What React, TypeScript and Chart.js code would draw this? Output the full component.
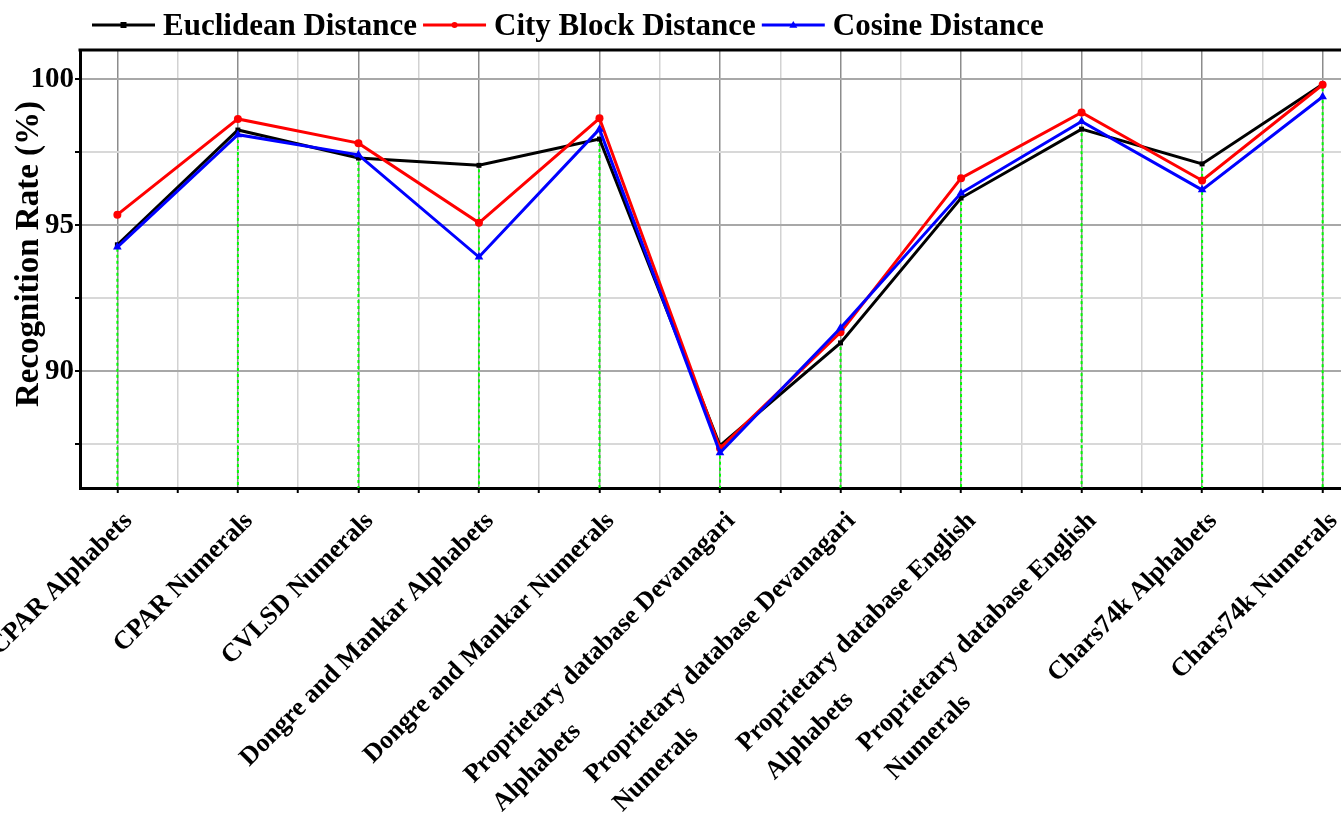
import React, { useEffect, useRef } from "react";
import { Chart, registerables } from "chart.js";

Chart.register(...registerables);

const FONT = '"Liberation Serif", "Times New Roman", serif';

const categories: string[][] = [
  ["CPAR Alphabets"],
  ["CPAR Numerals"],
  ["CVLSD Numerals"],
  ["Dongre and Mankar Alphabets"],
  ["Dongre and Mankar Numerals"],
  ["Proprietary database Devanagari", "Alphabets"],
  ["Proprietary database Devanagari", "Numerals"],
  ["Proprietary database English", "Alphabets"],
  ["Proprietary database English", "Numerals"],
  ["Chars74k Alphabets"],
  ["Chars74k Numerals"],
];

const seriesNames = ["Euclidean Distance", "City Block Distance", "Cosine Distance"];
const euclidean = [94.33, 98.26, 97.3, 97.05, 97.95, 87.45, 90.97, 95.93, 98.29, 97.1, 99.83];
const cityBlock = [95.36, 98.64, 97.81, 95.08, 98.66, 87.36, 91.33, 96.61, 98.86, 96.53, 99.81];
const cosine = [94.25, 98.1, 97.41, 93.91, 98.29, 87.21, 91.48, 96.1, 98.55, 96.21, 99.4];

const yTicks = [87.5, 90, 92.5, 95, 97.5, 100];
const yLabelTicks = [90, 95, 100];
const yMin = 86;
const yMax = 101;
const xPad = 0.31;
const yTitle = "Recognition Rate (%)";

const colors = ["#000000", "#ff0000", "#0000ff"];
const pointStyles = ["rect", "circle", "triangle"];
const pointRadii = [3.5, 4, 5];

function toXY(values: number[]) {
  return values.map((v, i) => ({ x: i, y: v }));
}

function drawMarker(ctx: CanvasRenderingContext2D, style: string, x: number, y: number, r: number, color: string) {
  ctx.save();
  ctx.fillStyle = color;
  ctx.beginPath();
  if (style === "rect") {
    ctx.rect(x - r, y - r, 2 * r, 2 * r);
  } else if (style === "circle") {
    ctx.arc(x, y, r, 0, Math.PI * 2);
  } else {
    ctx.moveTo(x, y - r);
    ctx.lineTo(x + r, y + r * 0.7);
    ctx.lineTo(x - r, y + r * 0.7);
    ctx.closePath();
  }
  ctx.fill();
  ctx.restore();
}

const decorPlugin = {
  id: "decor",
  beforeDatasetsDraw(chart: any) {
    const { ctx, chartArea } = chart;
    const meta = chart.getDatasetMeta(0);
    ctx.save();
    ctx.strokeStyle = "#00ff00";
    ctx.lineWidth = 2;
    ctx.setLineDash([3, 3]);
    meta.data.forEach((pt: any) => {
      ctx.beginPath();
      ctx.moveTo(pt.x, pt.y + 4);
      ctx.lineTo(pt.x, chartArea.bottom);
      ctx.stroke();
    });
    ctx.restore();
  },
  afterDraw(chart: any) {
    const { ctx, chartArea } = chart;
    ctx.save();
    // top / right border
    ctx.strokeStyle = "#000";
    ctx.lineWidth = 3;
    ctx.beginPath();
    ctx.moveTo(chartArea.left - 1.5, chartArea.top);
    ctx.lineTo(chartArea.right, chartArea.top);
    ctx.lineTo(chartArea.right, chartArea.bottom);
    ctx.stroke();

    // y axis title
    ctx.fillStyle = "#000";
    ctx.font = `bold 33px ${FONT}`;
    ctx.textAlign = "center";
    ctx.textBaseline = "middle";
    ctx.save();
    ctx.translate(29, 254);
    ctx.rotate(-Math.PI / 2);
    ctx.fillText(yTitle, 0, 0);
    ctx.restore();

    // x tick labels, rotated 45 degrees, multi-line left aligned
    const xs = chart.scales.x;
    ctx.font = `bold 26px ${FONT}`;
    ctx.textBaseline = "middle";
    categories.forEach((lines, i) => {
      const px = xs.getPixelForValue(i);
      ctx.save();
      ctx.translate(px + 11, chartArea.bottom + 29);
      ctx.rotate(-Math.PI / 4);
      ctx.textAlign = "right";
      ctx.fillText(lines[0], 0, 0);
      const w0 = ctx.measureText(lines[0]).width;
      ctx.textAlign = "left";
      for (let k = 1; k < lines.length; k++) {
        ctx.fillText(lines[k], -w0, 40 * k);
      }
      ctx.restore();
    });

    // legend
    ctx.font = `bold 31px ${FONT}`;
    ctx.textAlign = "left";
    ctx.textBaseline = "alphabetic";
    let x = 92;
    const ly = 25;
    chart.data.datasets.forEach((ds: any, i: number) => {
      ctx.strokeStyle = colors[i];
      ctx.lineWidth = 3;
      ctx.beginPath();
      ctx.moveTo(x, ly);
      ctx.lineTo(x + 63, ly);
      ctx.stroke();
      drawMarker(ctx, pointStyles[i], x + 31.5, ly, i === 2 ? 4 : 3, colors[i]);
      x += 63 + 8;
      ctx.fillStyle = "#000";
      ctx.fillText(ds.label, x, 35);
      x += ctx.measureText(ds.label).width + 6;
    });
    ctx.restore();
  },
};

export default function App() {
  const canvasRef = useRef<HTMLCanvasElement | null>(null);

  useEffect(() => {
    if (!canvasRef.current) return;
    const seriesValues = [euclidean, cityBlock, cosine];
    const chart = new Chart(canvasRef.current, {
      type: "line",
      data: {
        datasets: seriesValues.map((vals, i) => ({
          label: seriesNames[i],
          data: toXY(vals),
          borderColor: colors[i],
          backgroundColor: colors[i],
          borderWidth: 3,
          pointStyle: pointStyles[i] as any,
          pointRadius: pointRadii[i],
          pointBorderWidth: 0,
          pointBackgroundColor: colors[i],
          tension: 0,
          order: 2 - i,
        })),
      },
      options: {
        animation: false,
        responsive: false,
        devicePixelRatio: 1,
        layout: { padding: { top: 50, right: 40, left: 0, bottom: 0 } },
        plugins: {
          legend: { display: false },
          tooltip: { enabled: false },
        },
        scales: {
          x: {
            type: "linear",
            min: -xPad,
            max: categories.length - 1 + xPad,
            afterFit: (scale: any) => {
              scale.height = 336;
            },
            afterBuildTicks: (scale: any) => {
              const t = [];
              for (let i = 0; i < categories.length; i++) {
                t.push({ value: i });
                if (i < categories.length - 1) t.push({ value: i + 0.5 });
              }
              scale.ticks = t;
            },
            ticks: { display: false },
            grid: {
              color: (c: any) => (Number.isInteger(c.tick?.value) ? "#8c8c8c" : "#d2d2d2"),
              lineWidth: 1.5,
              drawTicks: true,
              tickLength: 5,
              tickColor: "#000",
              tickWidth: 2,
            },
            border: { color: "#000", width: 3 },
          },
          y: {
            type: "linear",
            min: yMin,
            max: yMax,
            afterFit: (scale: any) => {
              scale.width = 80;
            },
            afterBuildTicks: (scale: any) => {
              scale.ticks = yTicks.map((v) => ({ value: v }));
            },
            ticks: {
              padding: 1,
              color: "#000",
              font: { family: FONT, size: 29, weight: "bold" },
              callback: (v: any) => (yLabelTicks.includes(Number(v)) ? String(v) : ""),
            },
            grid: {
              color: (c: any) => (yLabelTicks.includes(Number(c.tick?.value)) ? "#a8a8a8" : "#d8d8d8"),
              lineWidth: 2,
              tickLength: 5,
              tickColor: "#000",
              tickWidth: 2,
            },
            border: { color: "#000", width: 3 },
          },
        },
      },
      plugins: [decorPlugin],
    });
    return () => chart.destroy();
  }, []);

  return (
    <div style={{ position: "absolute", left: 0, top: 0, width: 1341, height: 824, overflow: "hidden", background: "#fff" }}>
      <canvas ref={canvasRef} width={1400} height={824} style={{ display: "block", width: 1400, height: 824 }} />
    </div>
  );
}
